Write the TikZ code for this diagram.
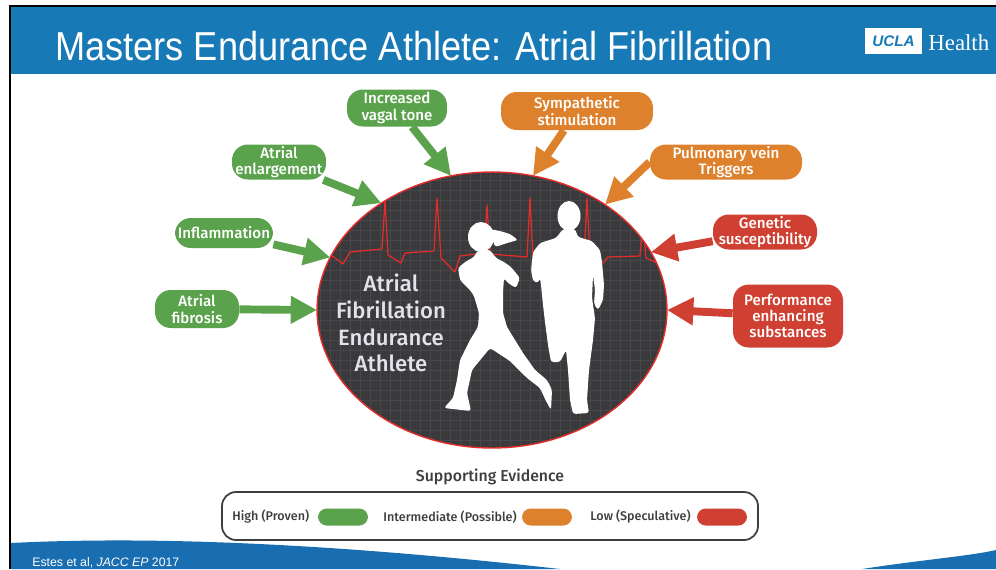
\documentclass[tikz,border=0pt]{standalone}
\usepackage{fontspec}
\setmainfont{Liberation Sans}
\newfontfamily\fira{Fira Sans Medium}
\newfontfamily\serifhealth{Liberation Serif}
\usepackage{tikz}
\usetikzlibrary{shapes.geometric, arrows.meta, positioning, calc}
\definecolor{headBlue}{RGB}{23,121,182}
\definecolor{swooshBlue}{RGB}{24,110,176}
\definecolor{evHigh}{RGB}{90,163,76}
\definecolor{evMid}{RGB}{222,129,45}
\definecolor{evLow}{RGB}{207,64,50}
\definecolor{afGray}{RGB}{58,58,61}
\definecolor{gridGray}{RGB}{72,72,76}
\definecolor{ecgRed}{RGB}{228,44,40}
\definecolor{inkGray}{RGB}{62,62,62}
\definecolor{softWhite}{RGB}{226,226,234}

\begin{document}
\begin{tikzpicture}[
  x=0.02cm, y=-0.02cm,
  cause/.style={rounded corners=9pt, text=white, align=center, inner sep=0pt,
                font=\fira\fontsize{8.6}{9.3}\selectfont},
  high/.style={cause, fill=evHigh},
  mid/.style={cause, fill=evMid},
  low/.style={cause, fill=evLow},
  push/.style={line width=4.5pt, -{Triangle[width=15pt,length=15pt]}},
  pill/.style={rounded corners=5pt, minimum width=1cm, minimum height=0.34cm, inner sep=0pt},
  legtext/.style={anchor=west, inner sep=0pt, text=inkGray,
                  font=\fira\fontsize{7.15}{9}\selectfont},
  runner/.style={white, rounded corners=1.5pt}
]
  \useasboundingbox (0,0) rectangle (996,569);

  % Header band
  \fill[headBlue] (11,7) rectangle (996,74);
  \draw[black, line width=1.3pt] (10,569) -- (10,6) -- (996,6);
  \node[anchor=base west, inner sep=0pt, text=white] (title) at (55,60)
    {\scalebox{0.895}[1]{\fontsize{23}{26}\selectfont Masters Endurance Athlete: Atrial Fibrillation}};
  \node[fill=white, minimum width=1.14cm, minimum height=0.52cm, inner sep=0pt,
        text=headBlue, font=\bfseries\itshape\fontsize{8.7}{9}\selectfont] (ucla) at (893.5,41) {UCLA};
  \node[anchor=base west, inner sep=0pt, text=white,
        font=\serifhealth\fontsize{13}{14}\selectfont] (health) at (928,50) {Health};

  % Footer swooshes
  \fill[swooshBlue] (11,569) -- (11,543) .. controls (150,536) and (330,543) .. (560,569) -- cycle;
  \fill[swooshBlue] (862,569) .. controls (920,560) and (970,556) .. (996,550) -- (996,569) -- cycle;
  \node[anchor=base west, inner sep=0pt, text=white, font=\fontsize{7}{8}\selectfont] (cite)
    at (32,566) {Estes et al, \textit{JACC EP}~2017};

  % Central ellipse
  \node[ellipse, minimum width=7cm, minimum height=5.52cm, outer sep=0pt,
        fill=afGray] (af) at (492,310) {};
  \begin{scope}
    \clip (af.center) ellipse [x radius=3.5cm, y radius=2.76cm];
    \draw[gridGray, line width=0.3pt, step=0.2cm] (300,160) grid (690,460);
    % ECG trace
    \draw[ecgRed, line width=0.7pt, line join=round]
      (318,252) -- (331,255) -- (343,264) -- (350,252) -- (382,249) -- (385,200)
      -- (388,255) -- (401,263) -- (405,253) -- (434,251) -- (437,198) -- (441,258)
      -- (455,272) -- (460,256) -- (484,253) -- (487,205) -- (490,254) -- (527,257)
      -- (530,198) -- (533,257) -- (584,257) -- (587,198) -- (590,257) -- (603,263)
      -- (608,257) -- (640,256) -- (643,222) -- (646,258) -- (655,262) -- (670,270);
  \end{scope}
  \draw[ecgRed, line width=0.8pt] (af.center) ellipse [x radius=3.5cm, y radius=2.76cm];

  % Runners
  \fill[white] (481,237) ellipse [x radius=0.26cm, y radius=0.3cm];
  \fill[runner] (489,229) -- (500,231) -- (510,234) -- (518,240) -- (507,243) -- (495,247) -- cycle;
  \fill[runner]
    (490,250) -- (496,258) -- (504,262) -- (511,267) -- (520,278) -- (516,288)
    -- (508,283) -- (504,278) -- (503,292) -- (503,313) -- (507,327) -- (523,353)
    -- (535,370) -- (547,380) -- (552,390) -- (551,410) -- (546,401) -- (540,388)
    -- (527,378) -- (510,361) -- (490,348) -- (472,370) -- (467,393) -- (471,411)
    -- (444,408) -- (453,398) -- (457,380) -- (460,360) -- (470,340) -- (478,327)
    -- (479,313) -- (474,296) -- (470,290) -- (460,280) -- (458,268) -- (465,262)
    -- (474,257) -- (478,250) -- cycle;
  \fill[white] (569,216) ellipse [x radius=0.23cm, y radius=0.3cm];
  \fill[runner]
    (563,229) -- (575,229) -- (578,237) -- (592,241) -- (600,250) -- (602,262)
    -- (604,285) -- (603,300) -- (598,310) -- (594,304) -- (595,290) -- (593,275)
    -- (592,298) -- (595,318) -- (593,340) -- (589,370) -- (587,400) -- (589,413)
    -- (573,414) -- (570,400) -- (568,370) -- (566,350) -- (560,362) -- (551,362)
    -- (548,345) -- (545,322) -- (543,305) -- (541,285) -- (540,278) -- (538,283)
    -- (533,281) -- (531,270) -- (533,252) -- (540,243) -- (556,238) -- cycle;

  \node[align=center, text=softWhite, inner sep=0pt,
        font=\fira\fontsize{12.6}{15.3}\selectfont] (aflabel) at (391,323)
    {Atrial\\Fibrillation\\Endurance\\Athlete};

  % Contributing factors
  \node[high, minimum width=2.0cm,  minimum height=0.74cm] (vagal)    at (397,108) {Increased\\vagal tone};
  \node[high, minimum width=1.88cm, minimum height=0.7cm]  (enlarge)  at (279,162) {Atrial\\enlargement};
  \node[high, minimum width=1.96cm, minimum height=0.6cm]  (inflam)   at (224,233) {Inflammation};
  \node[high, minimum width=1.68cm, minimum height=0.76cm] (fibrosis) at (197,309) {Atrial\\fibrosis};
  \node[mid,  minimum width=3.04cm, minimum height=0.76cm] (sympa)    at (577,111) {Sympathetic\\stimulation};
  \node[mid,  minimum width=3.04cm, minimum height=0.7cm]  (pulm)     at (726,162) {Pulmonary vein\\Triggers};
  \node[low,  minimum width=2.08cm, minimum height=0.7cm]  (genetic)  at (765,232) {Genetic\\susceptibility};
  \node[low,  minimum width=2.2cm,  minimum height=1.26cm] (doping)   at (788,316) {Performance\\enhancing\\substances};

  \draw[push, evHigh] (vagal) -- (af.107);
  \draw[push, evHigh] (enlarge) -- (af.136);
  \draw[push, evHigh] (inflam) -- (af.162);
  \draw[push, evHigh] (fibrosis) -- (af.180);
  \draw[push, evMid] (sympa) -- (af.73);
  \draw[push, evMid] (pulm.west) -- (af.43);
  \draw[push, evLow] (genetic) -- (af.20);
  \draw[push, evLow] (doping) -- (af.0);

  % Legend
  \node[text=inkGray, font=\fira\fontsize{9}{10}\selectfont] (evtitle) at (490,477) {Supporting Evidence};
  \draw[inkGray, line width=1pt, rounded corners=8pt] (222,492) rectangle (758,540);
  \node[legtext] (hightxt) at (232,517) {High (Proven)};
  \node[pill, fill=evHigh] (highpill) at (343,517) {};
  \node[legtext] (midtxt) at (383,517) {Intermediate (Possible)};
  \node[pill, fill=evMid] (midpill) at (547,517) {};
  \node[legtext] (lowtxt) at (590,517) {Low (Speculative)};
  \node[pill, fill=evLow] (lowpill) at (722,517) {};
\end{tikzpicture}
\end{document}
